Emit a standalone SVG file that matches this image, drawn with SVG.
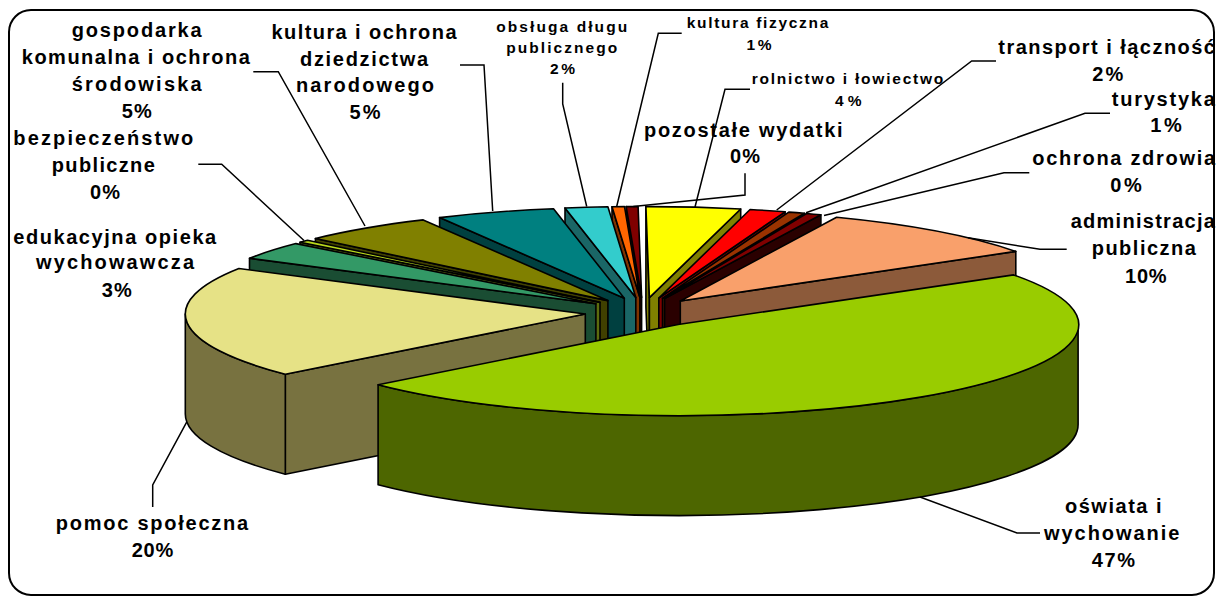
<svg xmlns="http://www.w3.org/2000/svg" width="1216" height="597" viewBox="0 0 1216 597">
<style>
.s{stroke:#000;stroke-width:1.6;stroke-linejoin:round}
.l{font-family:"Liberation Sans",Arial,sans-serif;font-weight:bold;font-size:20px;fill:#000;text-anchor:middle}
.sm{font-size:15.5px}
.c{fill:none;stroke:#000;stroke-width:1.5}
</style>
<rect x="0" y="0" width="1216" height="597" fill="#fff"/>
<rect x="9" y="10" width="1205" height="585" rx="22" fill="none" stroke="#000" stroke-width="2"/>

<g id="pozostale">
<path class="s" fill="#400000" d="M641.6,297.5 L626.2,206.6 L626.2,306.6 L641.6,397.5 Z"/>
<path class="s" fill="#800000" d="M641.6,297.5 L626.2,206.6 A400,91 0 0,1 638.1,206.5 Z"/>
<text class="l" x="743.3" y="136.7" textLength="198.7" lengthAdjust="spacing">pozostałe wydatki</text>
<text class="l" x="745" y="163.3" textLength="30" lengthAdjust="spacing">0%</text>
</g>

<g id="kultura-fizyczna">
<path class="s" fill="#803300" d="M639.9,297.5 L612,206.7 L612,306.7 L639.9,397.5 Z"/>
<path class="s" fill="#FF6600" d="M639.9,297.5 L612,206.7 A400,91 0 0,1 624.5,206.6 Z"/>
<text class="l sm" x="757.5" y="28.3" textLength="141.6" lengthAdjust="spacing">kultura fizyczna</text>
<text class="l sm" x="759" y="50" textLength="25" lengthAdjust="spacing">1%</text>
</g>

<g id="rolnictwo">
<path class="s" fill="#808000" d="M649.4,297.6 L645.9,206.6 L645.9,306.6 L649.4,397.6 Z"/>
<path class="s" fill="#808000" d="M649.4,297.6 L740.7,209 L740.7,309 L649.4,397.6 Z"/>
<path class="s" fill="#FFFF00" d="M649.4,297.6 L645.9,206.6 A400,91 0 0,1 740.7,209 Z"/>
<text class="l sm" x="847.5" y="84" textLength="191.6" lengthAdjust="spacing">rolnictwo i łowiectwo</text>
<text class="l sm" x="848.3" y="106" textLength="26.7" lengthAdjust="spacing">4%</text>
</g>

<g id="obsluga-dlugu">
<path class="s" fill="#1A6666" d="M635.8,297.6 L565,208 L565,308 L635.8,397.6 Z"/>
<path class="s" fill="#33CCCC" d="M635.8,297.6 L565,208 A400,91 0 0,1 607.9,206.8 Z"/>
<text class="l sm" x="561.7" y="31.7" textLength="131" lengthAdjust="spacing">obsługa długu</text>
<text class="l sm" x="561.7" y="53.3" textLength="111" lengthAdjust="spacing">publicznego</text>
<text class="l sm" x="562.5" y="74" textLength="25" lengthAdjust="spacing">2%</text>
</g>

<g id="transport">
<path class="s" fill="#800000" d="M658.8,298.1 L785.1,211.8 L785.1,311.8 L658.8,398.1 Z"/>
<path class="s" fill="#FF0000" d="M658.8,298.1 L750.1,209.5 A400,91 0 0,1 785.1,211.8 Z"/>
<text class="l" x="1106.6" y="54" textLength="216.7" lengthAdjust="spacing">transport i łączność</text>
<text class="l" x="1107.8" y="80.7" textLength="31" lengthAdjust="spacing">2%</text>
</g>

<g id="turystyka">
<path class="s" fill="#4D1A00" d="M662.5,298.4 L804.5,213.3 L804.5,313.3 L662.5,398.4 Z"/>
<path class="s" fill="#993300" d="M662.5,298.4 L788.8,212.1 A400,91 0 0,1 804.5,213.3 Z"/>
<text class="l" x="1163.3" y="106" textLength="103" lengthAdjust="spacing">turystyka</text>
<text class="l" x="1166" y="131.7" textLength="31.7" lengthAdjust="spacing">1%</text>
</g>

<g id="ochrona-zdrowia">
<path class="s" fill="#2A0000" d="M664.6,298.6 L820.9,214.8 L820.9,314.8 L664.6,398.6 Z"/>
<path class="s" fill="#800000" d="M664.6,298.6 L806.6,213.5 A400,91 0 0,1 820.9,214.8 Z"/>
<text class="l" x="1123.7" y="165" textLength="182.7" lengthAdjust="spacing">ochrona zdrowia</text>
<text class="l" x="1126" y="191.7" textLength="31.7" lengthAdjust="spacing">0%</text>
</g>

<g id="kultura-ochrona">
<path class="s" fill="#004040" d="M624.3,298.3 L439.6,217.6 L439.6,317.6 L624.3,398.3 Z"/>
<path class="s" fill="#008080" d="M624.3,298.3 L439.6,217.6 A400,91 0 0,1 553.5,208.7 Z"/>
<text class="l" x="364" y="39.3" textLength="185" lengthAdjust="spacing">kultura i ochrona</text>
<text class="l" x="364" y="66" textLength="128" lengthAdjust="spacing">dziedzictwa</text>
<text class="l" x="365" y="92" textLength="138" lengthAdjust="spacing">narodowego</text>
<text class="l" x="365" y="119" textLength="31" lengthAdjust="spacing">5%</text>
</g>

<g id="administracja">
<path class="s" fill="#8C5A3A" d="M680.3,301 L1015.8,251.4 L1015.8,351.4 L680.3,401 Z"/>
<path class="s" fill="#F9A06B" d="M680.3,301 L836.6,217.2 A400,91 0 0,1 1015.8,251.4 Z"/>
<text class="l" x="1142.8" y="228.3" textLength="144.3" lengthAdjust="spacing">administracja</text>
<text class="l" x="1143.8" y="255" textLength="104.3" lengthAdjust="spacing">publiczna</text>
<text class="l" x="1145.8" y="282.7" textLength="41.7" lengthAdjust="spacing">10%</text>
</g>

<g id="gospodarka">
<path class="s" fill="#404000" d="M607.9,300.6 L315.4,238.5 L315.4,338.5 L607.9,400.6 Z"/>
<path class="s" fill="#808000" d="M607.9,300.6 L315.4,238.5 A400,91 0 0,1 423.2,219.9 Z"/>
<text class="l" x="136.7" y="36.7" textLength="130" lengthAdjust="spacing">gospodarka</text>
<text class="l" x="135.8" y="64" textLength="228" lengthAdjust="spacing">komunalna i ochrona</text>
<text class="l" x="136.7" y="90.7" textLength="130" lengthAdjust="spacing">środowiska</text>
<text class="l" x="136.7" y="118.3" textLength="30" lengthAdjust="spacing">5%</text>
</g>

<g id="bezpieczenstwo">
<path class="s" fill="#5C6C0E" d="M600,302.4 L300,242.2 L300,342.2 L600,402.4 Z"/>
<path class="s" fill="#B8D81C" d="M600,302.4 L300,242.2 A400,91 0 0,1 307.5,240.3 Z"/>
<text class="l" x="103.3" y="145" textLength="180" lengthAdjust="spacing">bezpieczeństwo</text>
<text class="l" x="103.3" y="171.7" textLength="103" lengthAdjust="spacing">publiczne</text>
<text class="l" x="105" y="199" textLength="30" lengthAdjust="spacing">0%</text>
</g>

<g id="edukacyjna">
<path class="s" fill="#1A4D33" d="M595.9,303.8 L249.5,258.3 L249.5,358.3 L595.9,403.8 Z"/>
<path class="s" fill="#339966" d="M595.9,303.8 L249.5,258.3 A400,91 0 0,1 295.9,243.6 Z"/>
<text class="l" x="114.7" y="244.3" textLength="203" lengthAdjust="spacing">edukacyjna opieka</text>
<text class="l" x="115" y="269.3" textLength="158" lengthAdjust="spacing">wychowawcza</text>
<text class="l" x="116.7" y="296.7" textLength="30" lengthAdjust="spacing">3%</text>
</g>

<g id="pomoc">
<path class="s" fill="#787240" d="M585.3,314 L285.3,374.2 L285.3,474.2 L585.3,414 Z"/>
<path class="s" fill="#787240" d="M285.3,374.2 A400,91 0 0,1 185.3,314 L185.3,414 A400,91 0 0,0 285.3,474.2 Z"/>
<path class="s" fill="#E6E286" d="M585.3,314 L285.3,374.2 A400,91 0 0,1 238.9,268.5 Z"/>
<text class="l" x="152" y="530" textLength="192.3" lengthAdjust="spacing">pomoc społeczna</text>
<text class="l" x="152.5" y="556.7" textLength="41.6" lengthAdjust="spacing">20%</text>
</g>

<g id="oswiata">
<path class="s" fill="#4D6600" d="M1078.1,324.5 A400,91 0 0,1 378.1,384.7 L378.1,484.7 A400,91 0 0,0 1078.1,424.5 Z"/>
<path class="s" fill="#99CC00" d="M678.1,324.5 L1013.6,274.9 A400,91 0 0,1 378.1,384.7 Z"/>
<text class="l" x="1113.3" y="513.3" textLength="96.7" lengthAdjust="spacing">oświata i</text>
<text class="l" x="1111.7" y="540" textLength="135.3" lengthAdjust="spacing">wychowanie</text>
<text class="l" x="1113.3" y="566.7" textLength="43.3" lengthAdjust="spacing">47%</text>
</g>

<g id="connectors">
<path class="c" d="M253.3,71.7 H278.3 L365,226"/>
<path class="c" d="M198.3,164.3 H221.7 L304,240.5"/>
<path class="c" d="M460,65 H484 L492.7,211"/>
<path class="c" d="M562.7,82.7 V104 L586.7,206.5"/>
<path class="c" d="M681.7,33.3 H658.3 L616.7,206.5"/>
<path class="c" d="M750,89.3 H725 L695,207"/>
<path class="c" d="M745,173.3 V195 L633.3,206.5"/>
<path class="c" d="M996,61 H971.7 L776.7,210"/>
<path class="c" d="M1110,113.3 H1085 L806,212.8"/>
<path class="c" d="M1029.3,172.7 H1004 L824,215.5"/>
<path class="c" d="M1066.7,249.3 H1040 L968,237.8"/>
<path class="c" d="M920,497 L1017,533 H1040"/>
<path class="c" d="M186.8,421.9 L152.7,485 V507"/>
</g>
</svg>
